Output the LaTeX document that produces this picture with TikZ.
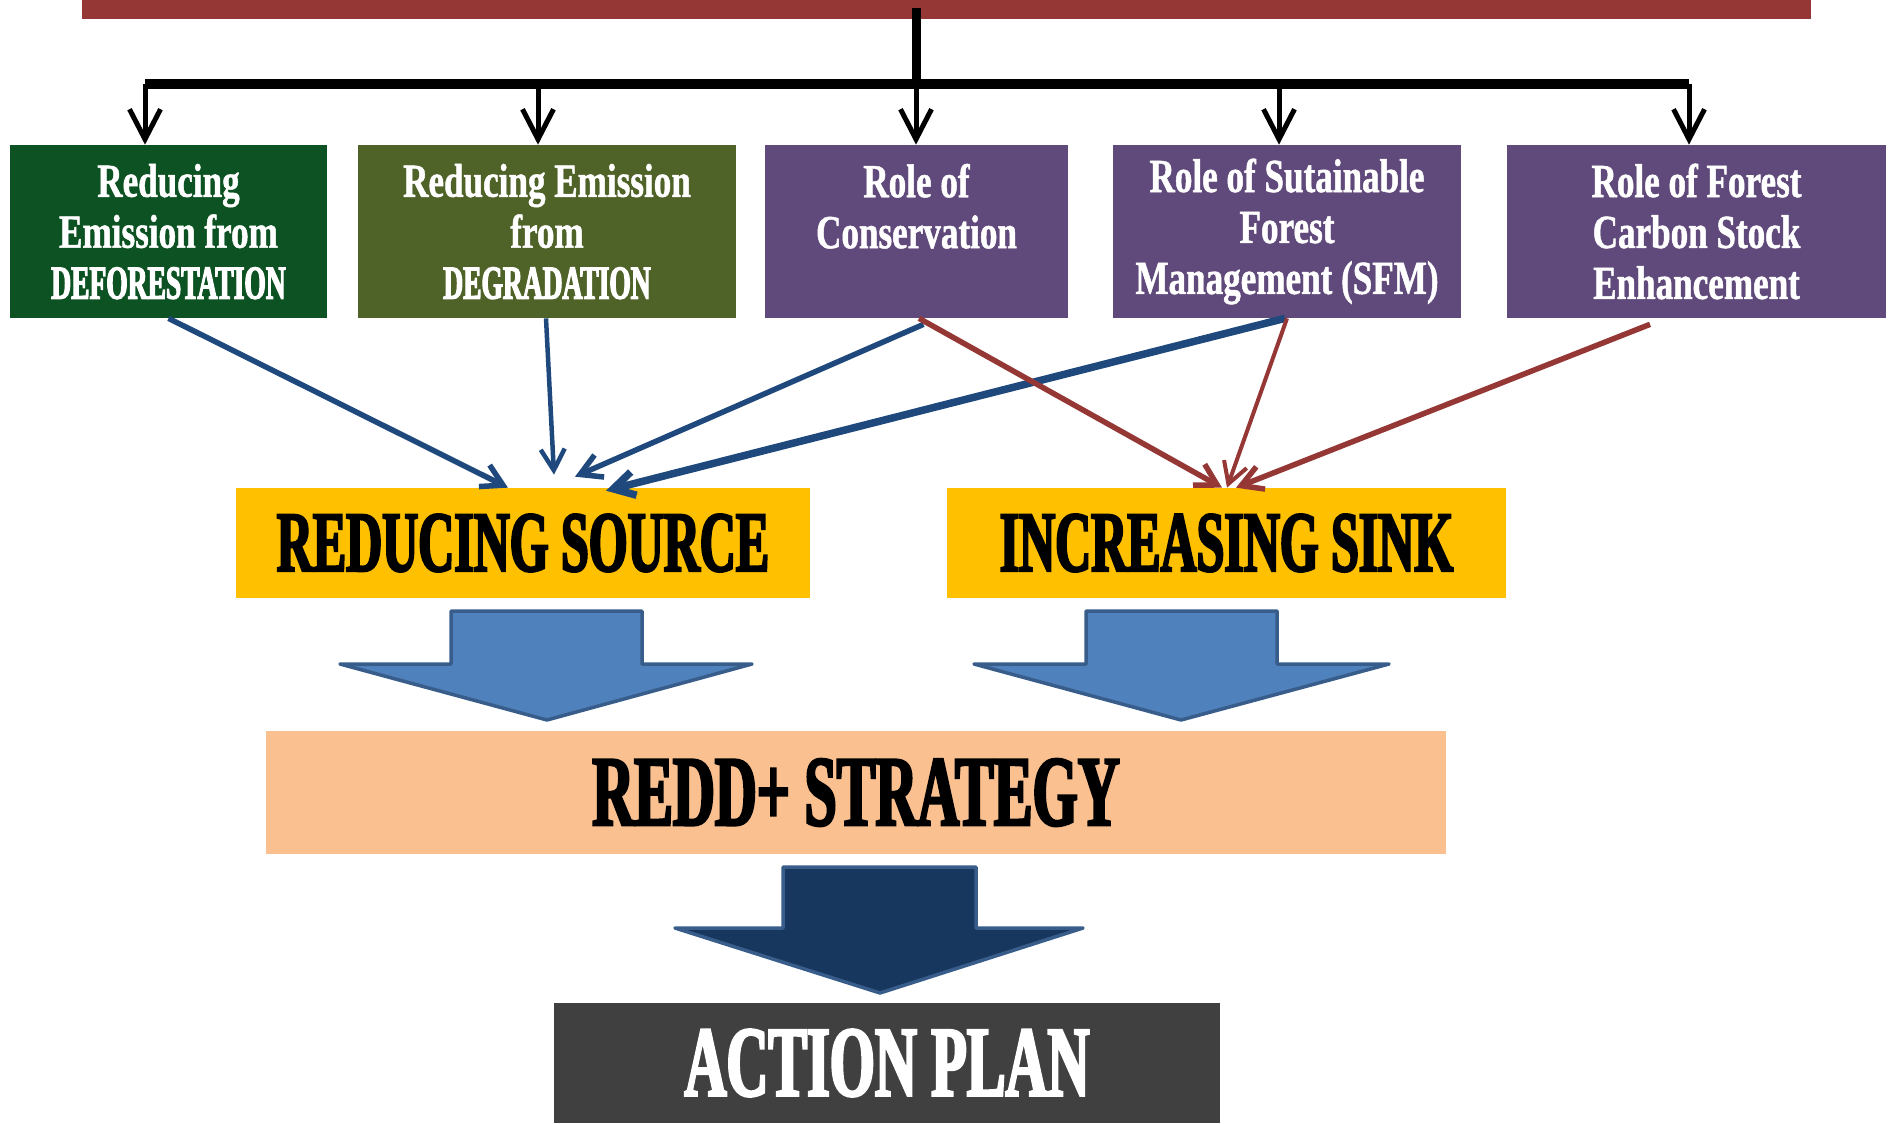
\documentclass[tikz,border=0pt]{standalone}
\usepackage{fontspec}
\usetikzlibrary{arrows.meta}
\newfontfamily\lowfont[FakeStretch=0.74,FakeBold=1]{Liberation Serif}
\newfontfamily\capfont[FakeStretch=0.58,FakeBold=2.5]{Liberation Serif}
\definecolor{titlered}{RGB}{149,55,53}
\definecolor{deepgreen}{RGB}{13,82,34}
\definecolor{mossgreen}{RGB}{79,98,40}
\definecolor{purplebox}{RGB}{96,74,123}
\definecolor{goldbox}{RGB}{255,192,0}
\definecolor{peachbox}{RGB}{250,192,144}
\definecolor{steelfill}{RGB}{79,129,189}
\definecolor{steelline}{RGB}{56,93,138}
\definecolor{navyfill}{RGB}{23,55,94}
\definecolor{srcblue}{RGB}{31,73,125}
\definecolor{plangrey}{RGB}{64,64,64}
\begin{document}
\begin{tikzpicture}[x=0.02cm, y=-0.02cm,
	topic/.style={minimum height=3.46cm, inner sep=0pt, align=center, text=white, font=\lowfont\bfseries\fontsize{27}{29}\selectfont},
	goal/.style={fill=goldbox, minimum height=2.2cm, inner sep=0pt, font=\capfont\bfseries\fontsize{49}{49}\selectfont},
	result/.style={inner sep=0pt, font=\capfont\bfseries\fontsize{57}{57}\selectfont},
	branch/.style={line width=0.1cm, -{Straight Barb[length=0.6cm,width=0.62cm]}},
	srcline/.style={draw=srcblue, line width=0.11cm, -{Straight Barb[length=0.42cm,width=0.48cm]}},
	sinkline/.style={draw=titlered, line width=0.11cm, -{Straight Barb[length=0.42cm,width=0.48cm]}},
	blockarrow/.style={fill=steelfill, draw=steelline, line width=0.07cm, line join=round}]
	\useasboundingbox (0,0) rectangle (1895,1123);
	
	\node[fill=titlered, minimum width=34.58cm, minimum height=0.78cm, inner sep=0pt] (title) at (946.5,-0.5) {}; % barra
	
	\node[topic, fill=deepgreen, minimum width=6.34cm] (defor) at (168.5,231.5) {Reducing\\Emission from\\{\capfont DEFORESTATION}};
	\node[topic, fill=mossgreen, minimum width=7.56cm] (degrad) at (547,231.5) {Reducing Emission\\from\\{\capfont DEGRADATION}};
	\node[topic, fill=purplebox, minimum width=6.06cm] (conserv) at (916.5,231.5) {Role of\\Conservation\\~};
	\node[topic, fill=purplebox, minimum width=6.96cm] (sfm) at (1287,231.5) {Role of Sutainable\\Forest\\Management (SFM)};
	\node[topic, fill=purplebox, minimum width=7.58cm] (stock) at (1696.5,231.5) {Role of Forest\\Carbon Stock\\Enhancement};
	
	% albero
	\coordinate (hub) at (916,84);
	\coordinate (b1) at (145,84);
	\coordinate (b2) at (538,84);
	\coordinate (b3) at (916,84);
	\coordinate (b4) at (1279,84);
	\coordinate (b5) at (1689,84);
	\draw[line width=0.18cm] ([yshift=0.22cm]hub |- title.south) -- (hub); % tronco
	\draw[line width=0.19cm] (b1) -- (b5);
	\foreach \b/\t in {b1/defor, b2/degrad, b3/conserv, b4/sfm, b5/stock}
		\draw[branch] (\b) -- (\b |- \t.north);
	
	\node[goal, minimum width=11.48cm] (src) at (523,543) {REDUCING SOURCE};
	\node[goal, minimum width=11.18cm] (sink) at (1226.5,543) {INCREASING SINK};
	
	% verso la fonte
	\draw[srcline] (defor.south) -- ([xshift=-0.3cm]src.north);
	\draw[srcline, line width=0.09cm] ([xshift=-0.02cm]degrad.south) -- ([xshift=0.62cm,yshift=0.26cm]src.north);
	\draw[srcline] ([xshift=0.14cm,yshift=-0.12cm]conserv.south) -- ([xshift=1.04cm,yshift=0.22cm]src.north);
	\draw[srcline, line width=0.15cm] ([xshift=-0.04cm]sfm.south) -- ([xshift=1.66cm,yshift=-0.06cm]src.north);
	% verso il pozzo
	\draw[sinkline] ([xshift=0.05cm]conserv.south) -- ([xshift=-0.09cm]sink.north);
	\draw[sinkline, line width=0.08cm] (sfm.south) -- ([xshift=0.01cm]sink.north);
	\draw[sinkline] ([xshift=-0.93cm,yshift=-0.12cm]stock.south) -- ([xshift=0.19cm]sink.north);
	
	\draw[blockarrow] (451,611) -- (642,611) -- (642,664) -- (752,664) -- (547,720) -- (340,664) -- (451,664) -- cycle;
	\draw[blockarrow] (1086,611) -- (1277,611) -- (1277,664) -- (1389,664) -- (1181,720) -- (974,664) -- (1086,664) -- cycle;
	
	\node[result, fill=peachbox, minimum width=23.6cm, minimum height=2.46cm] (redd) at (856,792.5) {REDD+ STRATEGY};
	
	\draw[blockarrow, fill=navyfill] (783,867) -- (976,867) -- (976,928) -- (1083,928) -- (880,993) -- (675,928) -- (783,928) -- cycle;
	
	\node[result, fill=plangrey, text=white, minimum width=13.32cm, minimum height=2.4cm] (plan) at (887,1063) {ACTION PLAN};
\end{tikzpicture}
\end{document}
